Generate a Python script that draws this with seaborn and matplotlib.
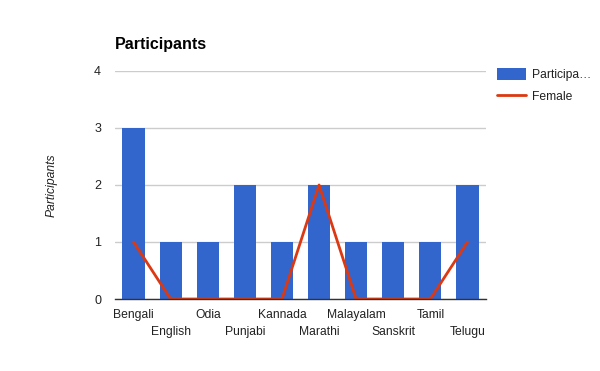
import matplotlib
matplotlib.use("Agg")
import matplotlib.pyplot as plt
import seaborn as sns
import pandas as pd
from matplotlib.patches import Patch
from matplotlib.lines import Line2D

languages = ["Bengali", "English", "Odia", "Punjabi", "Kannada", "Marathi",
             "Malayalam", "Sanskrit", "Tamil", "Telugu"]
participants = [3, 1, 1, 2, 1, 2, 1, 1, 1, 2]
female = [1, 0, 0, 0, 0, 2, 0, 0, 0, 1]
y_ticks = [0, 1, 2, 3, 4]

sns.set_theme(style="white")
plt.rcParams['font.family'] = ['Liberation Sans', 'DejaVu Sans']

df = pd.DataFrame({"Language": languages, "Participants": participants, "Female": female})

fig = plt.figure(figsize=(6, 3.71), dpi=100)
ax = fig.add_axes([115/600, 1-299/371, (486-115)/600, (299-71)/371])

sns.barplot(data=df, x="Language", y="Participants", color="#3366cc",
            saturation=1, width=0.6, ax=ax, zorder=2, linewidth=0)
sns.lineplot(data=df, x="Language", y="Female", color="#dc3912",
             linewidth=2, ax=ax, zorder=3, sort=False)

ax.set_ylim(0, 4)
ax.set_xlim(-0.5, len(languages) - 0.5)
ax.set_yticks(y_ticks)
ax.set_yticklabels([str(t) for t in y_ticks], fontsize=9, color="#222222")
ax.grid(axis="y", which="major", color="#cccccc", linewidth=1, zorder=0)
ax.set_axisbelow(True)
for s in ["top", "right", "left"]:
    ax.spines[s].set_visible(False)
ax.spines["bottom"].set_color("#333333")
ax.spines["bottom"].set_linewidth(1)
ax.spines["bottom"].set_zorder(4)
ax.tick_params(axis="y", length=0, pad=10)

even = list(range(0, len(languages), 2))
odd = list(range(1, len(languages), 2))
ax.set_xticks(even)
ax.set_xticklabels([languages[i] for i in even], fontsize=8.7, color="#222222")
ax.set_xticks(odd, minor=True)
ax.set_xticklabels([languages[i] for i in odd], minor=True, fontsize=8.7, color="#222222")
ax.tick_params(axis="x", which="major", length=0, pad=7.5)
ax.tick_params(axis="x", which="minor", length=0, pad=19.5)

ax.set_xlabel("")
ax.set_ylabel("Participants", fontsize=8.7, style="italic", color="#222222", labelpad=26)

fig.text(115/600, 1-45/371, "Participants", fontsize=11.5, fontweight="bold",
         color="#000000", va="center", ha="left")

handles = [Patch(facecolor="#3366cc", edgecolor="none"),
           Line2D([0], [0], color="#dc3912", linewidth=2)]
leg = ax.legend(handles, ["Participa…", "Female"], loc="upper left",
                bbox_to_anchor=(497/600, 1-68/371), bbox_transform=fig.transFigure,
                frameon=False, fontsize=8.7, handlelength=2.4, handleheight=1.1,
                handletextpad=0.5, borderaxespad=0, borderpad=0, labelspacing=0.75)
for t in leg.get_texts():
    t.set_color("#222222")

fig.savefig("out.png", dpi=100)
